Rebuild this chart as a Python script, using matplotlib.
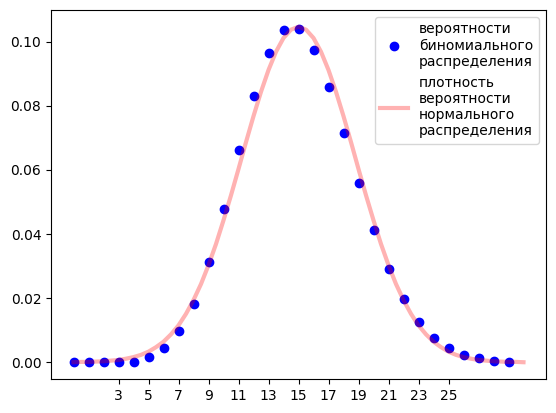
import matplotlib

matplotlib.use('Agg')
import numpy as np
import matplotlib.pyplot as plt

# binomial probabilities (k = 0..29)
k_values = list(range(30))
binom_probs = [0.0000, 0.0000, 0.0000, 0.0001, 0.0002, 0.0015, 0.0043, 0.0096,
               0.0183, 0.0314, 0.0477, 0.0661, 0.0832, 0.0966, 0.1038, 0.1041,
               0.0976, 0.0860, 0.0714, 0.0558, 0.0414, 0.0292, 0.0196, 0.0124,
               0.0077, 0.0043, 0.0024, 0.0012, 0.0005, 0.0001]

# normal density curve, sampled every 0.5 from 0 to 30
curve_x = [i * 0.5 for i in range(61)]
curve_half = [0.0000, 0.0001, 0.0001, 0.0002, 0.0003, 0.0005, 0.0007, 0.0011,
              0.0016, 0.0023, 0.0033, 0.0047, 0.0064, 0.0087, 0.0115, 0.0151,
              0.0194, 0.0244, 0.0303, 0.0369, 0.0443, 0.0521, 0.0603, 0.0687,
              0.0768, 0.0844, 0.0912, 0.0969, 0.1012, 0.1038]
curve_y = curve_half + [0.1047] + curve_half[::-1]

xtick_values = [3, 5, 7, 9, 11, 13, 15, 17, 19, 21, 23, 25]

fig = plt.figure(figsize=(5.56, 4.13), dpi=100)
ax = fig.add_axes([51 / 556, (413 - 379) / 413, 495 / 556, 369 / 413])

ax.plot(k_values, binom_probs, 'bo', ms=6, label='вероятности\nбиномиального\nраспределения')
ax.plot(curve_x, curve_y, 'r-', lw=3, alpha=0.3,
        label='плотность\nвероятности\nнормального\nраспределения')

ax.set_xticks(xtick_values)
ax.legend(loc='best')

fig.savefig('out.png', dpi=100)
